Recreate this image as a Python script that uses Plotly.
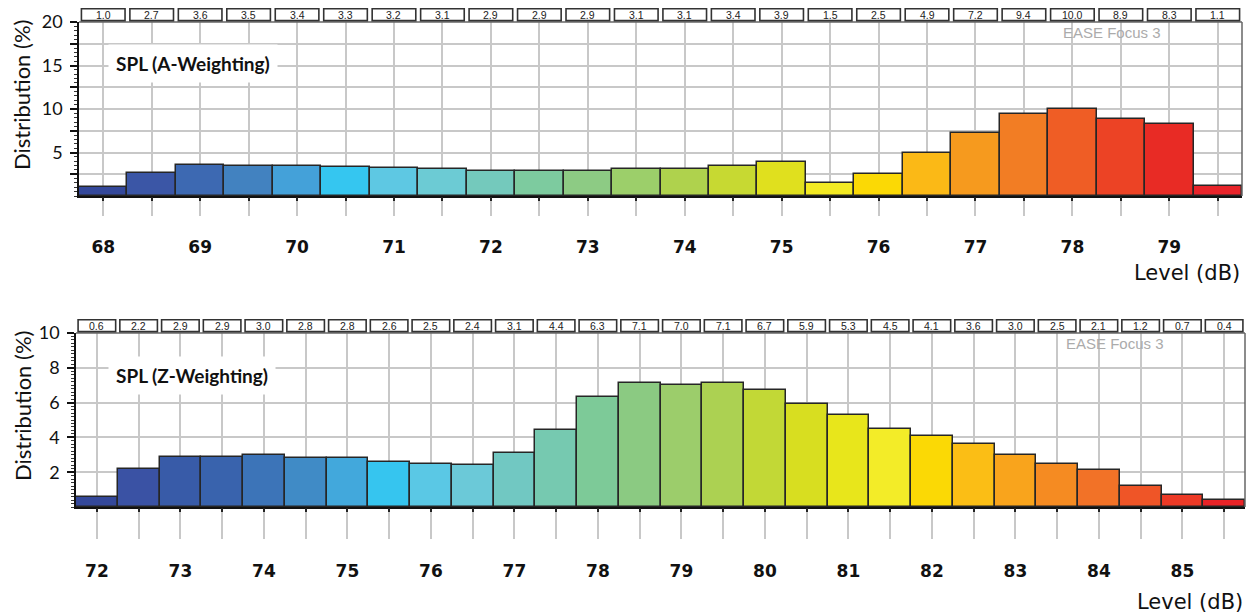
import plotly.graph_objects as go

# ---- A-weighted SPL distribution (0.5 dB classes) ----
levels_a = [68.0, 68.5, 69.0, 69.5, 70.0, 70.5, 71.0, 71.5, 72.0, 72.5, 73.0, 73.5,
            74.0, 74.5, 75.0, 75.5, 76.0, 76.5, 77.0, 77.5, 78.0, 78.5, 79.0, 79.5]
dist_a = [1.0, 2.7, 3.6, 3.5, 3.4, 3.3, 3.2, 3.1, 2.9, 2.9, 2.9, 3.1,
          3.1, 3.4, 3.9, 1.5, 2.5, 4.9, 7.2, 9.4, 10.0, 8.9, 8.3, 1.1]
colors_a = ["#34489a", "#3b56a6", "#3d69b2", "#4282c0", "#44a1d9", "#35c6f0",
            "#5ec8e3", "#6ccbd4", "#74c9bc", "#7dcb9f", "#8dcb84", "#9ccf6a",
            "#afd24d", "#c7d932", "#e0e01e", "#f3ea23", "#fbd905", "#fbb916",
            "#f69a1e", "#f27d24", "#ef5d25", "#ec4325", "#e82b25", "#e8242a"]
ticks_a = [68, 69, 70, 71, 72, 73, 74, 75, 76, 77, 78, 79]

# ---- Z-weighted SPL distribution (0.5 dB classes) ----
levels_z = [72.0, 72.5, 73.0, 73.5, 74.0, 74.5, 75.0, 75.5, 76.0, 76.5, 77.0, 77.5, 78.0, 78.5,
            79.0, 79.5, 80.0, 80.5, 81.0, 81.5, 82.0, 82.5, 83.0, 83.5, 84.0, 84.5, 85.0, 85.5]
dist_z = [0.6, 2.2, 2.9, 2.9, 3.0, 2.8, 2.8, 2.6, 2.5, 2.4, 3.1, 4.4, 6.3, 7.1,
          7.0, 7.1, 6.7, 5.9, 5.3, 4.5, 4.1, 3.6, 3.0, 2.5, 2.1, 1.2, 0.7, 0.4]
colors_z = ["#34489a", "#3a52a4", "#385ba8", "#3963ad", "#3c74b8", "#408bc6", "#42a8dc",
            "#36c5ef", "#5ac8e5", "#6bc9d8", "#71c8c2", "#76c9b0", "#7dca98", "#8bca82",
            "#9ccd6b", "#acd152", "#c2d836", "#d8de20", "#e8e61b", "#f3ec28", "#fbd905",
            "#fbbe15", "#f9a41c", "#f58b22", "#f27227", "#ef5527", "#ec3a26", "#e82327"]
ticks_z = [72, 73, 74, 75, 76, 77, 78, 79, 80, 81, 82, 83, 84, 85]

W, H = 1252, 613
GRID = "#c8c8c8"
FRAME = "#666666"
BIN = 0.5

panels = [
    dict(levels=levels_a, dist=dist_a, colors=colors_a, ticks=ticks_a,
         title="SPL (A-Weighting)", x_px=(79, 1242), y_px=(22, 196),
         yrange=(0, 20), ygrid=2.5, ylabel_step=5, yminor=0.5,
         ticklen=18, standoff=17, ylabel_center=95, level_y=273,
         ax=("x", "y", "x3")),
    dict(levels=levels_z, dist=dist_z, colors=colors_z, ticks=ticks_z,
         title="SPL (Z-Weighting)", x_px=(76, 1245), y_px=(333, 507),
         yrange=(0, 10), ygrid=2, ylabel_step=2, yminor=0.2,
         ticklen=30, standoff=18, ylabel_center=406, level_y=602,
         ax=("x2", "y2", "x4")),
]


def axis_key(ref):
    kind, num = ref[0], ref[1:]
    return f"{kind}axis{num}"


fig = go.Figure()
layout = dict(width=W, height=H, margin=dict(l=0, r=0, t=0, b=0, pad=0), autosize=False,
              paper_bgcolor="white", plot_bgcolor="white", showlegend=False,
              bargap=0, shapes=[], annotations=[])

for p in panels:
    xa, ya, xo = p["ax"]
    xr = (p["levels"][0] - BIN / 2, p["levels"][-1] + BIN / 2)
    xdom = [p["x_px"][0] / W, p["x_px"][1] / W]
    ydom = [1 - p["y_px"][1] / H, 1 - p["y_px"][0] / H]

    fig.add_trace(go.Bar(
        x=p["levels"], y=p["dist"], width=BIN, xaxis=xa, yaxis=ya,
        marker=dict(color=p["colors"], line=dict(color="#262626", width=1.5)),
        hoverinfo="x+y",
    ))
    # carrier for the short dark tick marks on the level axis
    fig.add_trace(go.Scatter(x=[], y=[], xaxis=xo, yaxis=ya, hoverinfo="skip"))

    ticktext = [str(int(v)) if float(v).is_integer() and int(v) in p["ticks"] else ""
                for v in p["levels"]]
    layout[axis_key(xa)] = dict(
        domain=xdom, anchor=ya, range=list(xr), tickmode="array", automargin=False,
        tickvals=p["levels"], ticktext=ticktext,
        showgrid=True, gridcolor=GRID, gridwidth=1.5,
        ticks="outside", ticklen=p["ticklen"], tickcolor=GRID, tickwidth=1.5,
        showline=True, linecolor="#111111", linewidth=1.5, zeroline=False,
        tickfont=dict(family="DejaVu Sans", size=17, color="#111111", weight="bold"),
        ticklabelstandoff=p["standoff"], fixedrange=True,
    )
    layout[axis_key(xo)] = dict(
        overlaying=xa, anchor=ya, range=list(xr), tickmode="array", automargin=False,
        tickvals=p["levels"], showticklabels=False, showgrid=False, zeroline=False,
        ticks="outside", ticklen=4, tickcolor="#222222", tickwidth=1.5, showline=False,
        fixedrange=True,
    )

    y0, y1 = p["yrange"]
    yvals, k = [], 1
    while p["ygrid"] * k <= y1 + 1e-9:
        yvals.append(round(p["ygrid"] * k, 3))
        k += 1
    ytext = [f"{v:g}" if abs(v / p["ylabel_step"] - round(v / p["ylabel_step"])) < 1e-9 else ""
             for v in yvals]
    layout[axis_key(ya)] = dict(
        domain=ydom, anchor=xa, range=[y0, y1], tickmode="array", automargin=False,
        tickvals=yvals, ticktext=ytext,
        showgrid=True, gridcolor=GRID, gridwidth=1.5, zeroline=False,
        ticks="outside", ticklen=7, tickcolor="#111111", tickwidth=1.5,
        minor=dict(dtick=p["yminor"], ticks="outside", ticklen=3, tickcolor="#333333",
                   tickwidth=1, showgrid=False),
        showline=True, linecolor="#111111", linewidth=1.5,
        tickfont=dict(family="Lato", size=18, color="#111111"),
        ticklabelstandoff=4, fixedrange=True,
    )

    # right and top frame of the plotting area
    layout["shapes"].append(dict(type="line", xref=f"{xa} domain", yref=f"{ya} domain",
                                 x0=1, x1=1, y0=0, y1=1, line=dict(color=FRAME, width=1.5)))
    layout["shapes"].append(dict(type="line", xref=f"{xa} domain", yref=f"{ya} domain",
                                 x0=0, x1=1, y0=1, y1=1, line=dict(color=FRAME, width=1.5)))

    # per-class value boxes above the plot
    for lv, val in zip(p["levels"], p["dist"]):
        layout["shapes"].append(dict(
            type="rect", xref=xa, yref=f"{ya} domain",
            x0=lv - BIN / 2 + 0.025, x1=lv + BIN / 2 - 0.025, y0=1.008, y1=1.076,
            line=dict(color="#333333", width=1.6), fillcolor="white"))
        layout["annotations"].append(dict(
            x=lv, y=1.042, xref=xa, yref=f"{ya} domain", text=f"{val:.1f}",
            showarrow=False, xanchor="center", yanchor="middle",
            font=dict(family="Liberation Sans", size=10.5, color="#222222")))

    # panel title
    layout["annotations"].append(dict(
        x=108 / W, y=1 - (p["y_px"][0] + 42) / H, xref="paper", yref="paper",
        text=f"<b>{p['title']}</b>", showarrow=False, xanchor="left", yanchor="middle",
        bgcolor="white", borderpad=7,
        font=dict(family="Lato", size=19, color="#111111")))
    # software watermark
    layout["annotations"].append(dict(
        x=0.932, y=0.937, xref=f"{xa} domain", yref=f"{ya} domain",
        text="EASE Focus 3", showarrow=False, xanchor="right", yanchor="middle",
        font=dict(family="Liberation Sans", size=15, color="#ababab")))
    # axis titles
    layout["annotations"].append(dict(
        x=22 / W, y=1 - p["ylabel_center"] / H, xref="paper", yref="paper",
        text="Distribution (%)", textangle=-90, showarrow=False,
        xanchor="center", yanchor="middle",
        font=dict(family="Lato", size=22, color="#111111")))
    layout["annotations"].append(dict(
        x=p["x_px"][1] / W, y=1 - p["level_y"] / H, xref="paper", yref="paper",
        text="Level (dB)", showarrow=False, xanchor="right", yanchor="middle",
        font=dict(family="DejaVu Sans", size=21, color="#111111")))

fig.update_layout(**layout)
fig.write_html("out.html")
